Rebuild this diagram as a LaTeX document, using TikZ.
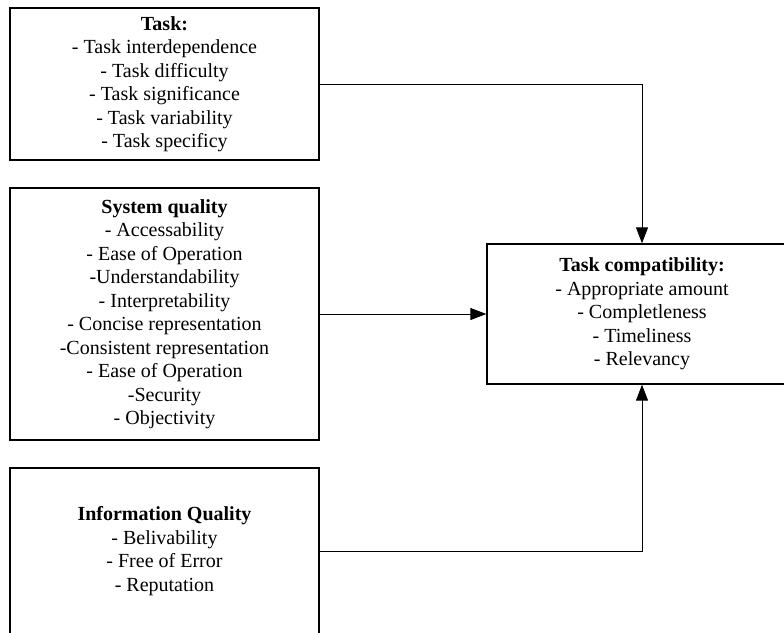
\documentclass[tikz,border=0pt]{standalone}
\usepackage{fontspec}
\setmainfont{Liberation Serif}
\usetikzlibrary{arrows.meta}
\begin{document}
\begin{tikzpicture}[x=1pt,y=-1pt,
  box/.style={draw=black, line width=1.3pt, rectangle, inner sep=0pt, align=center,
    font=\fontsize{20}{23.5}\selectfont},
  conn/.style={draw=black, line width=1pt, -{Triangle[length=16pt,width=12pt]}}]
\clip (0,0) rectangle (784,632);
\useasboundingbox (0,0) rectangle (784,632);
\node[box, minimum width=309pt, minimum height=152pt] (task) at (164.5,84)
  {\textbf{Task:}\\- Task interdependence\\- Task difficulty\\- Task significance\\- Task variability\\- Task specificy};
\node[box, minimum width=309pt, minimum height=252pt] (system) at (164.5,314)
  {\textbf{System quality}\\- Accessability\\- Ease of Operation\\-Understandability\\- Interpretability\\- Concise representation\\-Consistent representation\\- Ease of Operation\\-Security\\- Objectivity};
\node[box, minimum width=309pt, minimum height=166pt] (info) at (164.5,551)
  {\textbf{Information Quality}\\- Belivability\\- Free of Error\\- Reputation};
\node[box, minimum width=310pt, minimum height=140pt] (target) at (642,314)
  {\textbf{Task compatibility:}\\- Appropriate amount\\- Completleness\\- Timeliness\\- Relevancy};
\draw[conn] (task.east) -- (task.east -| target.north) -- (target.north);
\draw[conn] (system.east) -- (target.west);
\draw[conn] (info.east) -- (info.east -| target.south) -- (target.south);
\end{tikzpicture}
\end{document}
